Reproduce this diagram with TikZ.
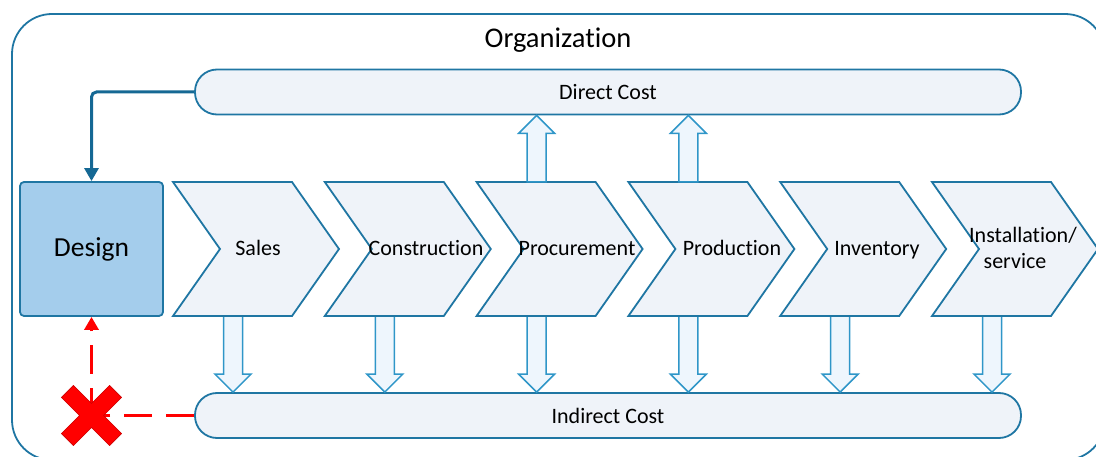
\documentclass[tikz,border=0pt]{standalone}
\usepackage{fontspec}
\setmainfont{Carlito}[Ligatures=NoCommon]
\usetikzlibrary{arrows.meta,calc}
\definecolor{outl}{RGB}{31,118,163}
\definecolor{chfill}{RGB}{239,243,249}
\definecolor{desfill}{RGB}{164,205,236}
\definecolor{fbcol}{RGB}{21,104,148}
\definecolor{blkline}{RGB}{47,150,200}
\definecolor{blkfill}{RGB}{238,246,253}
\definecolor{xred}{RGB}{255,0,0}
\definecolor{xdark}{RGB}{205,0,0}
\newcommand\blkarr[3]{%
  \draw[blk] let \p1=(#1), \p2=(#2) in
  (\x1-9.5pt,\y1) -- (\x1-9.5pt,{\y2+(#3)}) -- (\x1-18pt,{\y2+(#3)}) -- (\x1,\y2)
  -- (\x1+18pt,{\y2+(#3)}) -- (\x1+9.5pt,{\y2+(#3)}) -- (\x1+9.5pt,\y1) -- cycle;}
\begin{document}
\begin{tikzpicture}[x=1pt,y=-1pt,
  pill/.style={draw=outl, line width=1.8pt, fill=chfill, rounded corners=22pt,
    minimum width=826pt, minimum height=45pt, inner sep=0pt,
    font=\fontsize{22}{26}\selectfont},
  chev/.style={draw=outl, line width=1.8pt, fill=chfill, line join=miter},
  lbl/.style={font=\fontsize{22}{26}\selectfont, inner sep=0pt, anchor=base},
  blk/.style={draw=blkline, line width=1.5pt, fill=blkfill, line join=miter},
  fb/.style={draw=fbcol, line width=3pt, rounded corners=5pt,
    -{Triangle[width=14pt,length=13pt]}},
  reddash/.style={draw=xred, line width=3.5pt, dash pattern=on 28pt off 14pt},
  redtip/.style={-{Triangle[width=14pt,length=13pt]}}]
\useasboundingbox (0,0) rectangle (1096,457);
% outer organization frame
\draw[draw=outl, line width=1.8pt, rounded corners=40pt] (12,14) rectangle (1105,460);
\node[font=\fontsize{28.5}{32}\selectfont, inner sep=0pt, anchor=base] (org) at (558,48) {Organization};
% cost pills
\node[pill] (direct) at (608,92) {Direct Cost};
\node[pill] (indirect) at (608,415.5) {Indirect Cost};
% design box
\node[draw=outl, fill=desfill, line width=1.8pt, rounded corners=4pt,
  minimum width=143pt, minimum height=134pt, inner sep=0pt,
  font=\fontsize{27.5}{32}\selectfont] (design) at (91.5,249) {};
\node[font=\fontsize{27.5}{32}\selectfont, inner sep=0pt, anchor=base] (designlbl) at (91.5,257) {Design};
% chevrons
\foreach \i/\x in {1/173,2/324.8,3/476.6,4/628.4,5/780.2,6/932} {
  \coordinate (t\i) at (\x+60,182);
  \coordinate (b\i) at (\x+60,316);
  \blkarr{b\i}{b\i |- indirect.north}{18pt}
  \draw[chev] (\x,182) -- ++(119,0) -- ++(47,67) -- ++(-47,67) -- ++(-119,0) -- ++(47,-67) -- cycle;
}
\blkarr{t3}{t3 |- direct.south}{-18pt}
\blkarr{t4}{t4 |- direct.south}{-18pt}
\node[lbl] (sales) at (258,256) {Sales};
\node[lbl] (constr) at (426,256) {Construction};
\node[lbl] (procure) at (577,256) {Procurement};
\node[lbl] (product) at (732,256) {Production};
\node[lbl] (invent) at (877,256) {Inventory};
\node[lbl] (install) at (1023,243) {Installation/};
\node[lbl] (service) at (1015,269) {service};
% feedback from direct cost
\draw[fb] (direct.west) -| (design.north);
% broken feedback from indirect cost
\coordinate (xm) at (design.south |- indirect.west);
\draw[reddash] (indirect.west) -- (xm);
\draw[reddash, redtip] (xm) -- (design.south);
\fill[xred, draw=xdark, line width=0.6pt, shift={(xm)}, rotate=45]
  (8.5,8.5) -- (34,8.5) -- (34,-8.5) -- (8.5,-8.5) -- (8.5,-34) -- (-8.5,-34)
  -- (-8.5,-8.5) -- (-34,-8.5) -- (-34,8.5) -- (-8.5,8.5) -- (-8.5,34) -- (8.5,34) -- cycle;
\end{tikzpicture}
\end{document}
